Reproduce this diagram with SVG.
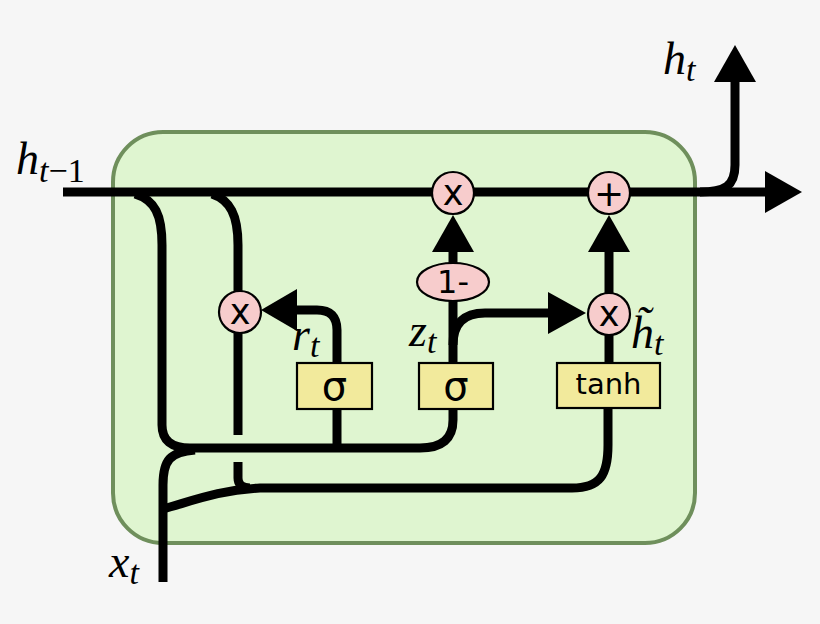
<svg xmlns="http://www.w3.org/2000/svg" width="820" height="624" viewBox="0 0 820 624">
<defs>
<style>
.ln{fill:none;stroke:#000;stroke-width:9;stroke-linecap:butt;stroke-linejoin:round}
.ah{fill:#000;stroke:none}
.op{fill:#f7cccc;stroke:#000;stroke-width:2.2}
.ly{fill:#f2ea9c;stroke:#000;stroke-width:2.2}
.ot{font-family:"DejaVu Sans",sans-serif;fill:#000;text-anchor:middle}
.mt{font-family:"Liberation Serif","DejaVu Serif",serif;font-style:italic;fill:#000}
</style>
</defs>
<rect x="0" y="0" width="820" height="624" fill="#f6f6f6"/>
<g id="cell">
<rect x="113" y="132" width="582" height="411" rx="50" ry="50" fill="#dff5d0" stroke="#6f8f5c" stroke-width="4"/>
</g>
<g id="connectors">
<path class="ln" d="M63,192 H768"/>
<polygon class="ah" points="765,171 802,192 765,213"/>
<path class="ln" d="M700,192 C725,192 735,186 735,165 V80"/>
<polygon class="ah" points="714,82 735,45 756,82"/>
<path class="ln" d="M135,194 C155,200 162,215 162,245 V425 Q162,448 190,448 H420 Q453,448 453,420 V386"/>
<path class="ln" d="M337,386 V448"/>
<path class="ln" d="M212,194 C230,200 238,215 238,245 V312"/>
<path class="ln" d="M238,312 V435"/>
<path class="ln" d="M238,462 V478 Q238,488 250,488"/>
<path class="ln" d="M337,386 V330 Q337,310 317,310 H295"/>
<polygon class="ah" points="297,289 261,310 297,331"/>
<path class="ln" d="M163,582 V485 C163,460 170,452 195,450"/>
<path class="ln" d="M163,509 C195,500 220,490 260,488 H572 C600,488 608,475 608,445 V386"/>
<path class="ln" d="M453,386 V282"/>
<path class="ln" d="M453,282 V250"/>
<polygon class="ah" points="432,252 453,215 474,252"/>
<path class="ln" d="M453,345 Q453,313 485,313 H550"/>
<polygon class="ah" points="548,292 586,313 548,334"/>
<path class="ln" d="M609,386 V314"/>
<path class="ln" d="M609,314 V250"/>
<polygon class="ah" points="588,252 609,215 630,252"/>
</g>
<g id="mul_r">
<circle class="op" cx="240" cy="312" r="21"/>
<text class="ot" x="240" y="324" font-size="35">x</text>
</g>
<g id="mul_top">
<circle class="op" cx="453" cy="193" r="21"/>
<text class="ot" x="453" y="205" font-size="35">x</text>
</g>
<g id="plus">
<circle class="op" cx="609" cy="193" r="21"/>
<text class="ot" x="609" y="206" font-size="36">+</text>
</g>
<g id="mul_h">
<circle class="op" cx="609" cy="314" r="21"/>
<text class="ot" x="609" y="326" font-size="35">x</text>
</g>
<g id="one_minus">
<ellipse class="op" cx="453" cy="282" rx="36" ry="19"/>
<text class="ot" x="453" y="293" font-size="32">1-</text>
</g>
<g id="sigma_r">
<rect class="ly" x="297" y="363" width="75" height="46"/>
<text class="ot" x="334.5" y="400" font-size="40">σ</text>
</g>
<g id="sigma_z">
<rect class="ly" x="419" y="363" width="74" height="46"/>
<text class="ot" x="456" y="400" font-size="40">σ</text>
</g>
<g id="tanh">
<rect class="ly" x="557" y="363" width="103" height="45"/>
<text class="ot" x="608.5" y="394" font-size="29">tanh</text>
</g>
<g id="labels">
<text class="mt" x="16" y="174" font-size="46">h<tspan font-size="34" dy="8">t</tspan><tspan font-size="34" font-style="normal">−1</tspan></text>
<text class="mt" x="663" y="74" font-size="46">h<tspan font-size="34" dy="7">t</tspan></text>
<text class="mt" x="109" y="577" font-size="46">x<tspan font-size="34" dy="7">t</tspan></text>
<text class="mt" x="292" y="350" font-size="46">r<tspan font-size="34" dy="7">t</tspan></text>
<text class="mt" x="409" y="346" font-size="46">z<tspan font-size="34" dy="7">t</tspan></text>
<text class="mt" x="631" y="348" font-size="46">h̃<tspan font-size="34" dy="7">t</tspan></text>
</g>
</svg>
